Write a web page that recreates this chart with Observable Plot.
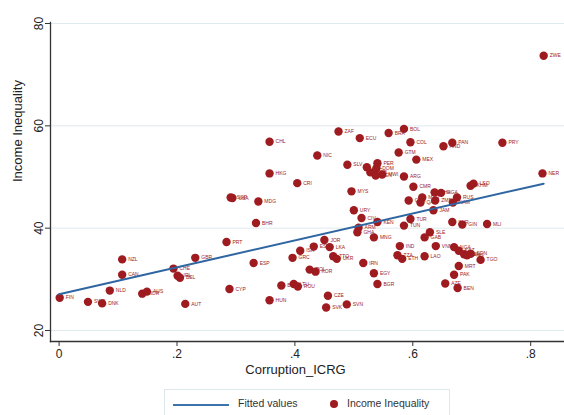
<!DOCTYPE html>
<html>
<head>
<meta charset="utf-8">
<script src="https://cdn.jsdelivr.net/npm/d3@7"></script>
<script src="https://cdn.jsdelivr.net/npm/@observablehq/plot@0.6"></script>
<style>
  body { margin: 0; background: #fff; font-family: "Liberation Sans", Arial, sans-serif; }
  #wrap { position: relative; width: 564px; height: 415px; overflow: hidden; }
  #legend { position: absolute; left: 164px; top: 389px; width: 286px; height: 34px; border: 1px solid #dce8ec; box-sizing: border-box; font-size: 10.5px; color: #333; }
  #legend .sw { position: absolute; top: 14px; left: 8px; width: 56px; height: 2px; background: #3d72ad; }
  #legend .t1 { position: absolute; top: 7px; left: 73px; }
  #legend .dot { position: absolute; top: 10px; left: 165px; width: 8px; height: 8px; border-radius: 50%; background: #9e1b20; }
  #legend .t2 { position: absolute; top: 7px; left: 182px; }
</style>
</head>
<body>
<div id="wrap">
  <div id="chart"></div>
  <div id="legend"><div class="sw"></div><div class="t1">Fitted values</div><div class="dot"></div><div class="t2">Income Inequality</div></div>
</div>
<script>
// Country codes (marker labels)
const countries = [
  "FIN","SWE","DNK","NZL","CAN","NLD","NOR","AUS","AUT","GBR",
  "CHE","IRL","BEL","PRT","ESP","CYP","HUN","GRC","ISR","EST",
  "JOR","LKA","TTO","UKR","POL","KOR","BLR","LTU","ROU","CZE",
  "SVK","SVN","IRN","EGY","BGR","MNG","GHA","SLE","GAB","IND",
  "TZA","ETH","LAO","VNM","NGA","KAZ","SEN","PNG","SDN","TGO",
  "MRT","PAK","AZE","BEN","NIC","HKG","CRI","SGP","USA","MDG",
  "BHR","SLV","PHL","GNB","PER","DOM","VEN","MWI","MYS","URY",
  "CIV","KEN","ARM","GTM","MEX","ARG","CMR","THA","UGA","MAR",
  "CHN","ZMB","RUS","KHM","LSO","QAT","NAM","JAM","TUR","TUN",
  "SYR","GIN","MLI","COL","BOL","BRA","ZAF","ECU","CHL","PAN",
  "HND","PRY","ZWE","NER"
];
// Corruption_ICRG (x)
const corruption = [
  0.001,0.049,0.073,0.107,0.107,0.086,0.141,0.149,0.214,0.231,
  0.194,0.201,0.205,0.284,0.330,0.289,0.357,0.396,0.409,0.432,
  0.450,0.459,0.465,0.471,0.425,0.435,0.377,0.398,0.405,0.456,
  0.453,0.488,0.516,0.534,0.540,0.534,0.506,0.629,0.620,0.578,
  0.574,0.582,0.620,0.639,0.670,0.678,0.687,0.692,0.698,0.715,
  0.678,0.670,0.655,0.676,0.438,0.357,0.404,0.291,0.294,0.338,
  0.334,0.489,0.522,0.528,0.540,0.538,0.537,0.548,0.496,0.500,
  0.513,0.540,0.508,0.576,0.606,0.585,0.601,0.637,0.648,0.616,
  0.593,0.638,0.675,0.698,0.703,0.613,0.668,0.635,0.596,0.585,
  0.667,0.684,0.726,0.596,0.585,0.559,0.474,0.510,0.357,0.667,
  0.652,0.752,0.822,0.820
];
// Income Inequality (y)
const inequality = [
  26.4,25.6,25.3,33.9,30.9,27.8,27.2,27.6,25.2,34.2,
  32.1,30.7,30.3,37.3,33.2,28.1,25.9,34.2,35.6,36.4,
  37.7,36.3,34.5,34.0,31.9,31.5,28.8,29.1,28.6,26.8,
  24.5,25.1,33.2,31.2,29.1,38.2,39.2,39.2,38.2,36.5,
  34.7,34.0,34.5,36.5,36.3,35.6,34.9,34.7,35.0,33.8,
  32.6,30.9,29.2,28.3,54.2,50.7,48.8,46.0,45.9,45.2,
  41.0,52.4,51.9,50.9,52.7,51.6,50.3,50.5,47.2,43.5,
  42.0,41.2,40.1,54.8,53.4,50.1,48.1,47.0,46.9,46.0,
  45.4,45.4,46.0,48.3,48.7,45.0,45.0,43.5,41.8,40.5,
  41.2,40.7,40.8,56.8,59.4,58.6,58.9,57.6,56.9,56.7,
  56.0,56.7,73.7,50.7
];
// Fitted values (endpoints of the linear fit)
const fitX = [0, 0.822];
const fitY = [27.1, 48.7];
const xTicks = [0, 0.2, 0.4, 0.6, 0.8];
const yTicks = [20, 40, 60, 80];

const pts = countries.map((c, i) => ({c, x: corruption[i], y: inequality[i]}));
const fit = fitX.map((x, i) => ({x, y: fitY[i]}));
const red = "#9e1b20";

const chart = Plot.plot({
  width: 564,
  height: 384,
  marginLeft: 50,
  marginTop: 22,
  marginBottom: 43,
  marginRight: 0,
  style: {fontFamily: "'Liberation Sans', Arial, sans-serif", background: "#fff", color: "#222"},
  x: {domain: [0, 0.8], range: [58.6, 530.2]},
  y: {domain: [20, 80], range: [330, 23]},
  marks: [
    Plot.gridY(yTicks, {stroke: "#dfeaee", strokeOpacity: 1, strokeWidth: 1}),
    Plot.frame({anchor: "left", stroke: "#333", strokeWidth: 1.3}),
    Plot.frame({anchor: "bottom", stroke: "#333", strokeWidth: 1.3}),
    Plot.axisX({ticks: xTicks, tickSize: 5, tickPadding: 3, fontSize: 12,
      tickFormat: d => d === 0 ? "0" : String(d).replace(/^0/, ""), label: null, stroke: "#333"}),
    Plot.axisY({ticks: yTicks, tickSize: 5, tickPadding: 3, fontSize: 12, tickRotate: -90, label: null, stroke: "#333"}),
    Plot.text(["Income Inequality"], {frameAnchor: "left", rotate: -90, dx: -33, fontSize: 13, fill: "#222"}),
    Plot.text(["Corruption_ICRG"], {frameAnchor: "bottom", dy: 32, dx: -12, fontSize: 13, fill: "#222"}),
    Plot.dot(pts, {x: "x", y: "y", r: 4.2, fill: red, stroke: "none"}),
    Plot.text(pts, {x: "x", y: "y", text: "c", dx: 6, textAnchor: "start", fontSize: 5, fill: red}),
    Plot.line(fit, {x: "x", y: "y", stroke: "#2f66a2", strokeWidth: 2})
  ]
});
document.getElementById("chart").appendChild(chart);
</script>
</body>
</html>
